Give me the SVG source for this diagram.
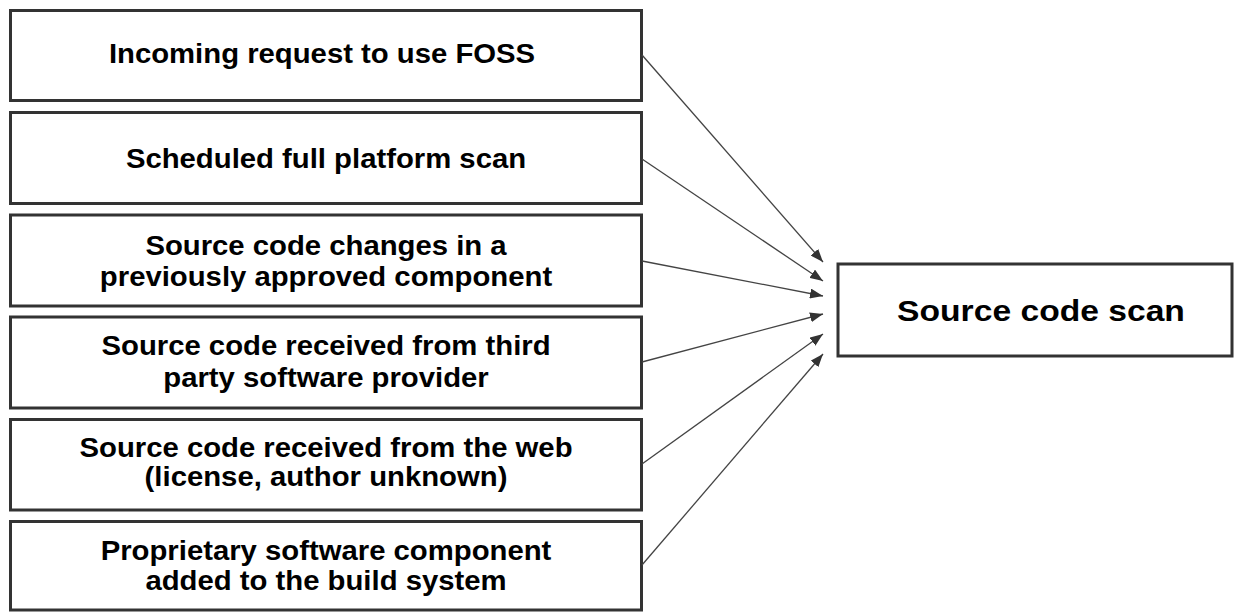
<svg xmlns="http://www.w3.org/2000/svg" width="1237" height="612" viewBox="0 0 1237 612">
<style>
.box{fill:#fff;stroke:#333;stroke-width:3}
.lbl{font-family:"Liberation Sans",Arial,sans-serif;font-weight:bold;font-size:27px;fill:#000;text-anchor:middle}
.big{font-family:"Liberation Sans",Arial,sans-serif;font-weight:bold;font-size:29px;fill:#000;text-anchor:middle}
.con{stroke:#444;stroke-width:1.3;fill:none;marker-end:url(#ah)}
</style>
<defs>
<marker id="ah" viewBox="0 0 13 10" refX="13" refY="5" markerWidth="13" markerHeight="10" markerUnits="userSpaceOnUse" orient="auto">
<path d="M0,0 L13,5 L0,10 Z" fill="#333"/>
</marker>
</defs>
<rect width="1237" height="612" fill="#fff"/>
<g id="n1"><rect class="box" x="10.5" y="10.5" width="631" height="90"/>
<text class="lbl" transform="translate(322 63) scale(1.085 1)">Incoming request to use FOSS</text></g>
<g id="n2"><rect class="box" x="10.5" y="112.5" width="631" height="91"/>
<text class="lbl" transform="translate(326 168) scale(1.085 1)">Scheduled full platform scan</text></g>
<g id="n3"><rect class="box" x="10.5" y="215" width="631" height="91"/>
<text class="lbl" transform="translate(326 255) scale(1.085 1)">Source code changes in a</text>
<text class="lbl" transform="translate(326 286) scale(1.085 1)">previously approved component</text></g>
<g id="n4"><rect class="box" x="10.5" y="317" width="631" height="91"/>
<text class="lbl" transform="translate(326 355) scale(1.085 1)">Source code received from third</text>
<text class="lbl" transform="translate(326 387) scale(1.085 1)">party software provider</text></g>
<g id="n5"><rect class="box" x="10.5" y="419.5" width="631" height="90.5"/>
<text class="lbl" transform="translate(326 457) scale(1.085 1)">Source code received from the web</text>
<text class="lbl" transform="translate(326 486) scale(1.085 1)">(license, author unknown)</text></g>
<g id="n6"><rect class="box" x="10.5" y="521.5" width="631" height="88.5"/>
<text class="lbl" transform="translate(326 560) scale(1.085 1)">Proprietary software component</text>
<text class="lbl" transform="translate(326 590) scale(1.085 1)">added to the build system</text></g>
<g id="target"><rect class="box" x="838" y="264" width="394" height="92"/>
<text class="big" transform="translate(1041 321) scale(1.16 1)">Source code scan</text></g>
<g id="connectors">
<line class="con" x1="642" y1="55" x2="823" y2="262"/>
<line class="con" x1="642" y1="159" x2="823" y2="281"/>
<line class="con" x1="642" y1="261" x2="823" y2="296"/>
<line class="con" x1="642" y1="362" x2="823" y2="314"/>
<line class="con" x1="642" y1="464" x2="823" y2="334"/>
<line class="con" x1="642" y1="565" x2="823" y2="354"/>
</g>
</svg>
